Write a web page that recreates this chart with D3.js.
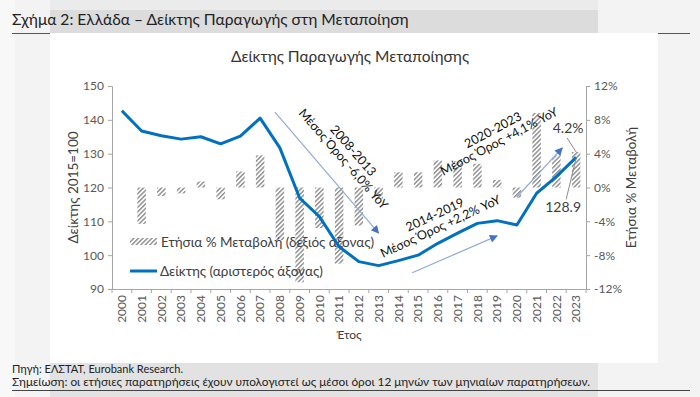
<!DOCTYPE html>
<html><head><meta charset="utf-8">
<script src="https://cdn.jsdelivr.net/npm/d3@7"></script>
<style>
html,body{margin:0;padding:0;background:#f3f3f3;}
svg{display:block;font-family:Lato,"Noto Sans",sans-serif;}
</style></head>
<body><svg id="c" width="700" height="397"></svg>
<script>
const years = ["2000","2001","2002","2003","2004","2005","2006","2007","2008","2009","2010","2011","2012","2013","2014","2015","2016","2017","2018","2019","2020","2021","2022","2023"];
const indexValues = [142.7,136.7,135.3,134.3,135.0,132.9,135.2,140.5,131.7,116.9,111.4,102.5,98.1,96.9,98.4,100.0,103.5,106.5,109.4,110.2,108.9,118.3,123.2,128.9];
const yoyValues = [null,-4.3,-1.0,-0.7,0.7,-1.4,1.9,3.8,-6.2,-11.2,-4.8,-9.0,-4.5,-1.3,1.8,1.8,3.2,3.1,2.8,0.9,-1.2,8.8,3.8,4.2];
const leftTicks = [90,100,110,120,130,140,150];
const rightTicks = [-12,-8,-4,0,4,8,12];
const headerText = "Σχήμα 2: Ελλάδα – Δείκτης Παραγωγής στη Μεταποίηση";
const chartTitle = "Δείκτης Παραγωγής Μεταποίησης";
const leftTitle = "Δείκτης 2015=100";
const rightTitle = "Ετήσια % Μεταβολή";
const xTitle = "Έτος";
const legendLabels = ["Ετήσια % Μεταβολή (δεξιός άξονας)","Δείκτης (αριστερός άξονας)"];
const footerLines = ["Πηγή: ΕΛΣΤΑΤ, Eurobank Research.","Σημείωση: οι ετήσιες παρατηρήσεις έχουν υπολογιστεί ως μέσοι όροι 12 μηνών των μηνιαίων παρατηρήσεων."];
// annotation periods: [from year, from index, to year, to index]
const trendArrows = [[2007.75,142.3,2013.0,106.5],[2014.7,94.8,2019.0,105.7],[2020.0,117.2,2022.3,131.7]];
const trendLabels = [["2008-2013","Μέσος Όρος -6,0% YoY"],["2014-2019","Μέσος Όρος +2,2% YoY"],["2020-2023","Μέσος Όρος +4,1% YoY"]];
const lastYoyLabel = "4.2%";
const lastIndexLabel = "128.9";

const svg = d3.select("#c");
// background panels
svg.append("rect").attr("x",0).attr("y",0).attr("width",700).attr("height",397).attr("fill","#f3f3f3");
svg.append("rect").attr("x",0).attr("y",0).attr("width",15).attr("height",397).attr("fill","#f8f8f8");
svg.append("rect").attr("x",50).attr("y",0).attr("width",548).attr("height",10).attr("fill","#ebebeb");
svg.append("rect").attr("x",50).attr("y",10).attr("width",548).attr("height",23).attr("fill","#dcdcdc");
svg.append("rect").attr("x",50).attr("y",33).attr("width",608).attr("height",330).attr("fill","#ffffff");
svg.append("rect").attr("x",50).attr("y",363).attr("width",548).attr("height",34).attr("fill","#e2e2e2");
svg.append("line").attr("x1",12).attr("x2",50).attr("y1",33.5).attr("y2",33.5).attr("stroke","#555").attr("stroke-width",1);
svg.append("line").attr("x1",658).attr("x2",690).attr("y1",33.5).attr("y2",33.5).attr("stroke","#555").attr("stroke-width",1);
svg.append("line").attr("x1",12).attr("x2",690).attr("y1",390.5).attr("y2",390.5).attr("stroke","#444").attr("stroke-width",1);

svg.append("text").attr("x",12).attr("y",25).attr("font-size",15.6).attr("fill","#222").text(headerText);
svg.append("text").attr("x",12).attr("y",373).attr("font-size",11).attr("fill","#222").text(footerLines[0]);
svg.append("text").attr("x",12).attr("y",386).attr("font-size",11).attr("fill","#222")
  .attr("textLength",578).attr("lengthAdjust","spacingAndGlyphs").text(footerLines[1]);

// pattern
const defs = svg.append("defs");
const pat = defs.append("pattern").attr("id","hatch").attr("patternUnits","userSpaceOnUse")
  .attr("width",3.2).attr("height",10).attr("patternTransform","rotate(45)");
pat.append("rect").attr("width",3.2).attr("height",10).attr("fill","#fff");
pat.append("rect").attr("width",1.4).attr("height",10).attr("fill","#8c8c8c");
defs.append("marker").attr("id","arr").attr("viewBox","0 0 10 10").attr("refX",9).attr("refY",5)
  .attr("markerWidth",10).attr("markerHeight",8).attr("markerUnits","userSpaceOnUse").attr("orient","auto")
  .append("path").attr("d","M0,0L10,5L0,10z").attr("fill","#4472c4");

const L=112,R=586,T=86,B=289;
const x = d3.scaleBand().domain(years).range([L,R]).padding(0);
const xl = d3.scaleLinear().domain([2000,2023]).range([x("2000")+x.bandwidth()/2, x("2023")+x.bandwidth()/2]);
const yL = d3.scaleLinear().domain([90,150]).range([B,T]);
const yR = d3.scaleLinear().domain([-12,12]).range([B,T]);

svg.append("text").attr("x",350).attr("y",62).attr("text-anchor","middle").attr("font-size",15.5).attr("fill","#333").text(chartTitle);

// axes
const axL = svg.append("g").attr("transform",`translate(${L},0)`).call(d3.axisLeft(yL).tickValues(leftTicks).tickSize(4).tickPadding(4));
const axR = svg.append("g").attr("transform",`translate(${R},0)`).call(d3.axisRight(yR).tickValues(rightTicks).tickSize(4).tickPadding(4).tickFormat(d=>d+"%"));
[axL,axR].forEach(g=>{g.select(".domain").attr("stroke","#a6a6a6");g.selectAll(".tick line").attr("stroke","#a6a6a6");
  g.selectAll("text").attr("font-size",12).attr("fill","#595959").attr("font-family","Lato,'Noto Sans',sans-serif");});
const axX = svg.append("g").attr("transform",`translate(0,${B})`).call(d3.axisBottom(x).tickSize(0).tickPadding(0));
axX.select(".domain").attr("stroke","#a6a6a6");
axX.selectAll(".tick text").attr("font-size",12).attr("fill","#595959").attr("font-family","Lato,'Noto Sans',sans-serif")
  .attr("text-anchor","end").attr("transform","translate(0,6) rotate(-90)").attr("dy","0.35em").attr("y",0).attr("x",0);
svg.append("g").selectAll("line").data(years.concat(["end"])).join("line")
  .attr("x1",(d,i)=>L+i*x.bandwidth()).attr("x2",(d,i)=>L+i*x.bandwidth()).attr("y1",B).attr("y2",B+4).attr("stroke","#a6a6a6");

svg.append("text").attr("transform",`translate(78,${(T+B)/2}) rotate(-90)`).attr("text-anchor","middle").attr("font-size",13.5).attr("fill","#404040").text(leftTitle);
svg.append("text").attr("transform",`translate(636,${(T+B)/2}) rotate(-90)`).attr("text-anchor","middle").attr("font-size",13.5).attr("fill","#404040").text(rightTitle);
svg.append("text").attr("x",(L+R)/2).attr("y",339).attr("text-anchor","middle").attr("font-size",12).attr("fill","#404040").text(xTitle);

// bars
const bw = 8.5;
svg.append("g").selectAll("rect").data(years.map((y,i)=>({y,v:yoyValues[i]})).filter(d=>d.v!==null)).join("rect")
  .attr("x",d=>x(d.y)+x.bandwidth()/2-bw/2).attr("width",bw)
  .attr("y",d=>yR(Math.max(0,d.v))).attr("height",d=>Math.abs(yR(d.v)-yR(0)))
  .attr("fill","url(#hatch)");

// legend
svg.append("rect").attr("x",130).attr("y",238).attr("width",27).attr("height",7).attr("fill","url(#hatch)");
svg.append("line").attr("x1",130).attr("x2",157).attr("y1",271).attr("y2",271).attr("stroke","#0070c0").attr("stroke-width",3);
legendLabels.forEach((t,i)=>svg.append("text").attr("x",i===0?161:160).attr("y",242+i*29).attr("dy","0.35em").attr("font-size",13.5).attr("fill","#404040").text(t));

// line
svg.append("path").datum(indexValues).attr("fill","none").attr("stroke","#0070c0").attr("stroke-width",3).attr("stroke-linejoin","round")
  .attr("d",d3.line().x((d,i)=>x(years[i])+x.bandwidth()/2).y(d=>yL(d)));

// trend arrows
svg.append("g").selectAll("line").data(trendArrows).join("line")
  .attr("x1",d=>xl(d[0])).attr("y1",d=>yL(d[1])).attr("x2",d=>xl(d[2])).attr("y2",d=>yL(d[3]))
  .attr("stroke","#8faadc").attr("stroke-width",1.2).attr("marker-end","url(#arr)");

// trend labels: [centre year, centre index, angle]
const labelPlace = [[2011.45,129.6,49],[2016.0,110.1,-25],[2018.95,135.2,-28]];
trendLabels.forEach((lab,i)=>{
  const p = labelPlace[i];
  const g = svg.append("g").attr("transform",`translate(${xl(p[0])},${yL(p[1])}) rotate(${p[2]})`);
  g.append("text").attr("text-anchor","middle").attr("y",-7).attr("dy","0.35em").attr("font-size",12.5).attr("fill","#111").text(lab[0]);
  g.append("text").attr("text-anchor","middle").attr("y",6).attr("dy","0.35em").attr("font-size",12.5).attr("fill","#111").text(lab[1]);
});

// last value labels
const lastX = x("2023")+x.bandwidth()/2;
svg.append("line").attr("x1",lastX-9).attr("y1",yR(4.2)-14).attr("x2",lastX).attr("y2",yR(4.2)).attr("stroke","#8c8c8c");
svg.append("text").attr("x",lastX-8).attr("y",yR(4.2)-24).attr("dy","0.35em").attr("text-anchor","middle").attr("font-size",14).attr("fill","#404040").text(lastYoyLabel);
svg.append("line").attr("x1",lastX-10).attr("y1",yL(128.9)+42).attr("x2",lastX).attr("y2",yL(128.9)+1).attr("stroke","#8c8c8c");
svg.append("text").attr("x",lastX-13).attr("y",yL(128.9)+50).attr("dy","0.35em").attr("text-anchor","middle").attr("font-size",14).attr("fill","#404040").text(lastIndexLabel);
</script></body></html>
